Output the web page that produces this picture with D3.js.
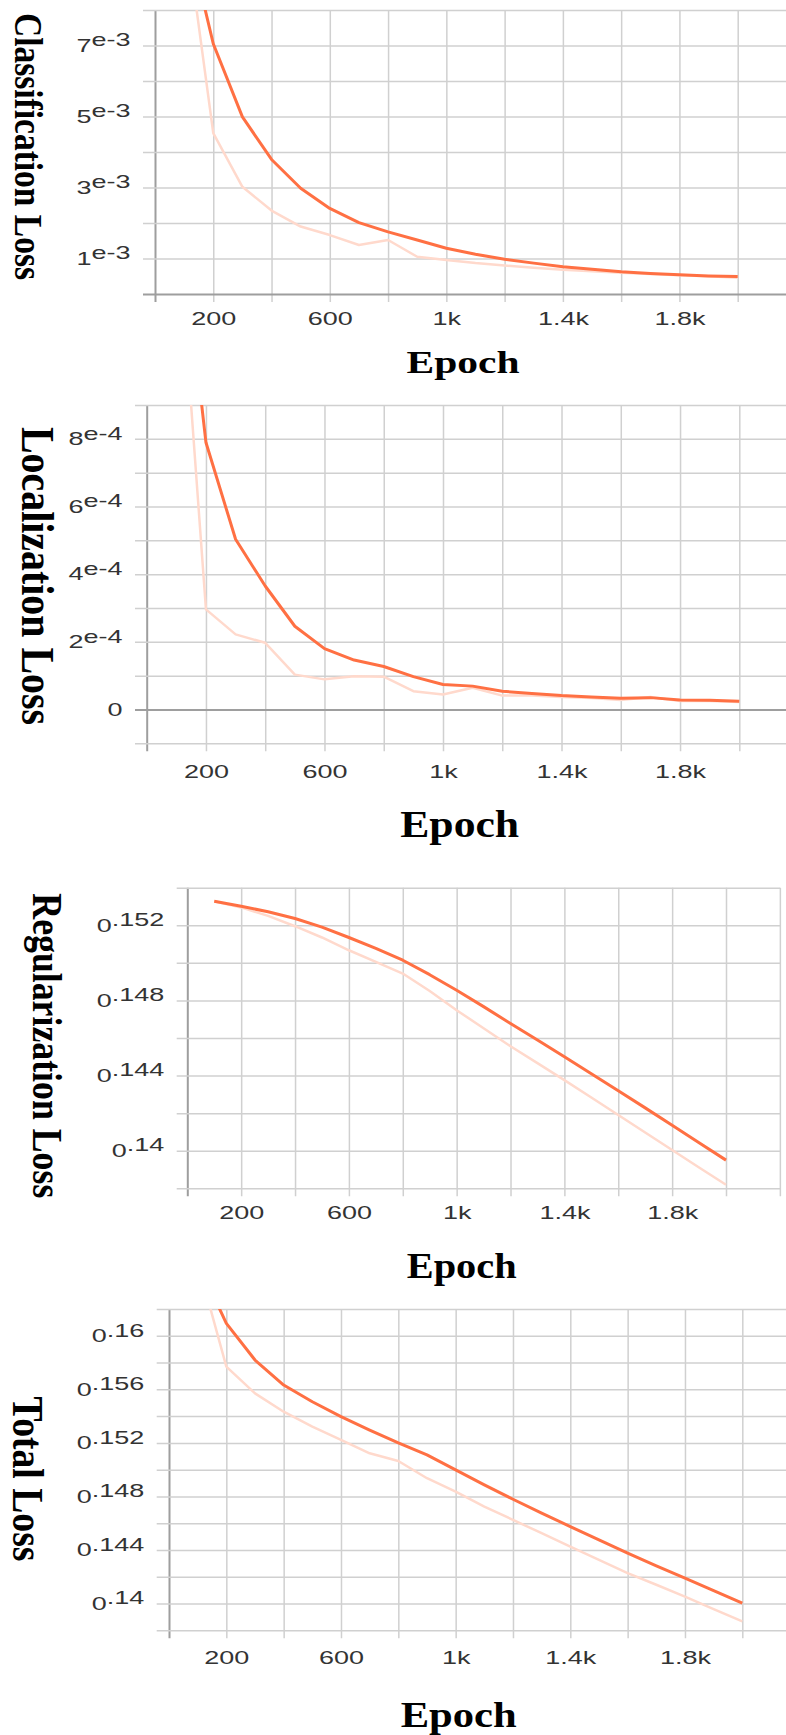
<!DOCTYPE html>
<html>
<head>
<meta charset="utf-8">
<script src="https://cdn.jsdelivr.net/npm/d3@7"></script>
<style>
  html, body { margin: 0; padding: 0; background: #fff; }
  svg { display: block; }
</style>
</head>
<body>
<svg id="chart" width="786" height="1735"></svg>
<script>
// epochs logged (every 100 steps)
var epochs = [100, 200, 300, 400, 500, 600, 700, 800, 900, 1000,
              1100, 1200, 1300, 1400, 1500, 1600, 1700, 1800, 1900, 2000];

// x tick labels (gridlines every 200, labels every 400)
var xTickValues = [200, 600, 1000, 1400, 1800];
var xTickLabels = ["200", "600", "1k", "1.4k", "1.8k"];

// classification loss
var clsSmooth = [0.0105, 0.00705, 0.00499, 0.00379, 0.00298, 0.00241, 0.00201, 0.00175, 0.00152, 0.00129,
                 0.00112, 0.00098, 0.00087, 0.00077, 0.00070, 0.00063, 0.00058, 0.00054, 0.00051, 0.00049];
var clsRaw    = [0.0106, 0.00453, 0.00302, 0.00235, 0.00190, 0.00166, 0.00138, 0.00152, 0.00105, 0.00096,
                 0.00087, 0.00080, 0.00074, 0.00068, 0.00064, 0.00060, 0.00056, 0.00053, 0.00050, 0.00046];
var clsYTicks  = [0.001, 0.003, 0.005, 0.007];
var clsYLabels = ["1e-3", "3e-3", "5e-3", "7e-3"];

// localization loss
var locSmooth = [0.00156, 0.000789, 0.000503, 0.000365, 0.000246, 0.000180, 0.000146, 0.000127, 0.000097, 0.000074,
                 0.000069, 0.000054, 0.000047, 0.000041, 0.000037, 0.000033, 0.000035, 0.000028, 0.000027, 0.000024];
var locRaw    = [0.0015, 0.000296, 0.000222, 0.000197, 0.000103, 0.000089, 0.000098, 0.000097, 0.000054, 0.000044,
                 0.000064, 0.000041, 0.000041, 0.000037, 0.000034, 0.000028, 0.000037, 0.000025, 0.000025, 0.000022];
var locYTicks  = [0, 0.0002, 0.0004, 0.0006, 0.0008];
var locYLabels = ["0", "2e-4", "4e-4", "6e-4", "8e-4"];

// regularization loss
var regSmooth = [0.15328, 0.15301, 0.15272, 0.15236, 0.15190, 0.15135, 0.15077, 0.15014, 0.14937, 0.14854,
                 0.14767, 0.14677, 0.14589, 0.14500, 0.14410, 0.14319, 0.14228, 0.14136, 0.14043, 0.13950];
var regRaw    = [0.15328, 0.15295, 0.15250, 0.15195, 0.15135, 0.15067, 0.15005, 0.14943, 0.14850, 0.14748,
                 0.14652, 0.14556, 0.14466, 0.14376, 0.14283, 0.14190, 0.14097, 0.14004, 0.13911, 0.13819];
var regYTicks  = [0.14, 0.144, 0.148, 0.152];
var regYLabels = ["0.14", "0.144", "0.148", "0.152"];

// total loss
var totSmooth = [0.1655, 0.16093, 0.15819, 0.15632, 0.15507, 0.15396, 0.15296, 0.15200, 0.15110, 0.14998,
                 0.14886, 0.14779, 0.14675, 0.14575, 0.14475, 0.14376, 0.14281, 0.14190, 0.14097, 0.14003];
var totRaw    = [0.1655, 0.15769, 0.15570, 0.15433, 0.15321, 0.15222, 0.15122, 0.15065, 0.14936, 0.14836,
                 0.14724, 0.14625, 0.14525, 0.14425, 0.14326, 0.14227, 0.14140, 0.14052, 0.13958, 0.13866];
var totYTicks  = [0.14, 0.144, 0.148, 0.152, 0.156, 0.16];
var totYLabels = ["0.14", "0.144", "0.148", "0.152", "0.156", "0.16"];

var smoothColor = "#ff7043";
var rawColor = "#ffd9cc";
var gridColor = "#d0d0d0";
var axisColor = "#9e9e9e";
var tickFont = "'Liberation Sans', Arial, Helvetica, sans-serif";
var titleFont = "'Liberation Serif', 'Times New Roman', serif";
var stretch = 1.5; // tick labels are drawn wide in the original

var panels = [
  { title: "Classification Loss", smooth: clsSmooth, raw: clsRaw, yTicks: clsYTicks, yLabels: clsYLabels,
    yDomain: [0, 0.008], yStep: 0.001, zero: true,
    x0: 155, x2000: 737.7, right: 786, top: 10, bottom: 294, gridLeft: 143, xPad: 10,
    epochX: 463, epochY: 372.7, epochSize: 31.7, epochLen: 113,
    titleX: 15, titleY: 146.5, titleSize: 39.7, titleLen: 267 },
  { title: "Localization Loss", smooth: locSmooth, raw: locRaw, yTicks: locYTicks, yLabels: locYLabels,
    yDomain: [-0.0001, 0.0009], yStep: 0.0001, zero: true,
    x0: 146.7, x2000: 739.3, right: 786, top: 405, bottom: 743.3, gridLeft: 135, xPad: 14,
    epochX: 459.7, epochY: 836.7, epochSize: 37.8, epochLen: 119,
    titleX: 21.7, titleY: 576, titleSize: 46.6, titleLen: 298 },
  { title: "Regularization Loss", smooth: regSmooth, raw: regRaw, yTicks: regYTicks, yLabels: regYLabels,
    yDomain: [0.138, 0.154], yStep: 0.002, zero: false,
    x0: 187.3, x2000: 726, right: 780, top: 887.7, bottom: 1188.3, gridLeft: 176.7, xPad: 10,
    epochX: 461.7, epochY: 1278.3, epochSize: 35.2, epochLen: 110,
    titleX: 32.7, titleY: 1045.8, titleSize: 42.6, titleLen: 305 },
  { title: "Total Loss", smooth: totSmooth, raw: totRaw, yTicks: totYTicks, yLabels: totYLabels,
    yDomain: [0.138, 0.162], yStep: 0.002, zero: false,
    x0: 169, x2000: 742.3, right: 786, top: 1309, bottom: 1630.3, gridLeft: 156.7, xPad: 13,
    epochX: 458.7, epochY: 1726.7, epochSize: 35.2, epochLen: 116,
    titleX: 12.7, titleY: 1479, titleSize: 44, titleLen: 165 }
];

var svg = d3.select("#chart");

panels.forEach(function(p, pi) {
  var x = d3.scaleLinear().domain([0, 2000]).range([p.x0, p.x2000]);
  var y = d3.scaleLinear().domain(p.yDomain).range([p.bottom, p.top]);

  var n = Math.round((p.yDomain[1] - p.yDomain[0]) / p.yStep);
  var gridY = d3.range(n + 1).map(function(i) { return p.yDomain[0] + i * p.yStep; });
  var gridX = d3.range(0, 2401, 200).filter(function(v) { return x(v) <= p.right + 0.5; });

  function yLabel(v) {
    for (var i = 0; i < p.yTicks.length; i++) {
      if (Math.abs(v - p.yTicks[i]) < p.yStep / 10) return p.yLabels[i];
    }
    return "";
  }
  function xLabel(v) {
    var i = xTickValues.indexOf(v);
    return i < 0 ? "" : xTickLabels[i];
  }

  var g = svg.append("g");

  // vertical gridlines + x tick labels
  var xAxis = d3.axisBottom(x)
    .tickValues(gridX)
    .tickSizeInner(-(p.bottom + 8 - p.top))
    .tickSizeOuter(0)
    .tickPadding(p.xPad)
    .tickFormat(xLabel);
  var gx = g.append("g")
    .attr("transform", "translate(0," + (p.bottom + 8) + ")")
    .call(xAxis);
  gx.select(".domain").remove();
  gx.selectAll("line")
    .attr("stroke", function(d) { return d === 0 ? axisColor : gridColor; })
    .attr("stroke-width", function(d) { return d === 0 ? 2 : 1.5; });
  gx.selectAll("text")
    .attr("fill", "#333")
    .style("font-family", tickFont)
    .style("font-size", "18px")
    .attr("transform", "scale(" + stretch + ",1)");

  // horizontal gridlines + y tick labels
  var yAxis = d3.axisLeft(y)
    .tickValues(gridY)
    .tickSizeInner(-(p.right - p.gridLeft))
    .tickSizeOuter(0)
    .tickPadding(12.5 / stretch)
    .tickFormat(yLabel);
  var gy = g.append("g")
    .attr("transform", "translate(" + p.gridLeft + ",0)")
    .call(yAxis);
  gy.select(".domain").remove();
  gy.selectAll("line")
    .attr("stroke", function(d) { return (p.zero && Math.abs(d) < 1e-12) ? axisColor : gridColor; })
    .attr("stroke-width", function(d) { return (p.zero && Math.abs(d) < 1e-12) ? 2 : 1.5; });
  gy.selectAll("text")
    .attr("fill", "#333")
    .style("font-family", tickFont)
    .style("font-size", "18px")
    .attr("transform", "scale(" + stretch + ",1)")
    .each(function(d) {
      var s = yLabel(d);
      var t = d3.select(this);
      t.text(null);
      if (!s) return;
      t.append("tspan").text(s[0]);
      if (s.length > 1) t.append("tspan").attr("dy", -5.5).text(s.slice(1));
    });

  // lines
  var clipId = "clip" + pi;
  g.append("clipPath").attr("id", clipId)
    .append("rect")
    .attr("x", p.x0).attr("y", p.top)
    .attr("width", p.right - p.x0).attr("height", p.bottom - p.top);

  var line = d3.line()
    .x(function(d, i) { return x(epochs[i]); })
    .y(function(d) { return y(d); });

  var lines = g.append("g").attr("clip-path", "url(#" + clipId + ")");
  lines.append("path")
    .attr("d", line(p.raw))
    .attr("fill", "none")
    .attr("stroke", rawColor)
    .attr("stroke-width", 2.5)
    .attr("stroke-linejoin", "round");
  lines.append("path")
    .attr("d", line(p.smooth))
    .attr("fill", "none")
    .attr("stroke", smoothColor)
    .attr("stroke-width", 3)
    .attr("stroke-linejoin", "round");

  // axis titles
  g.append("text")
    .attr("x", p.epochX)
    .attr("y", p.epochY)
    .attr("text-anchor", "middle")
    .attr("textLength", p.epochLen)
    .attr("lengthAdjust", "spacingAndGlyphs")
    .style("font-family", titleFont)
    .style("font-weight", "bold")
    .style("font-size", p.epochSize + "px")
    .attr("fill", "#000")
    .text("Epoch");

  g.append("text")
    .attr("transform", "translate(" + p.titleX + "," + p.titleY + ") rotate(90)")
    .attr("text-anchor", "middle")
    .attr("textLength", p.titleLen)
    .attr("lengthAdjust", "spacingAndGlyphs")
    .style("font-family", titleFont)
    .style("font-weight", "bold")
    .style("font-size", p.titleSize + "px")
    .attr("fill", "#000")
    .text(p.title);
});
</script>
</body>
</html>
